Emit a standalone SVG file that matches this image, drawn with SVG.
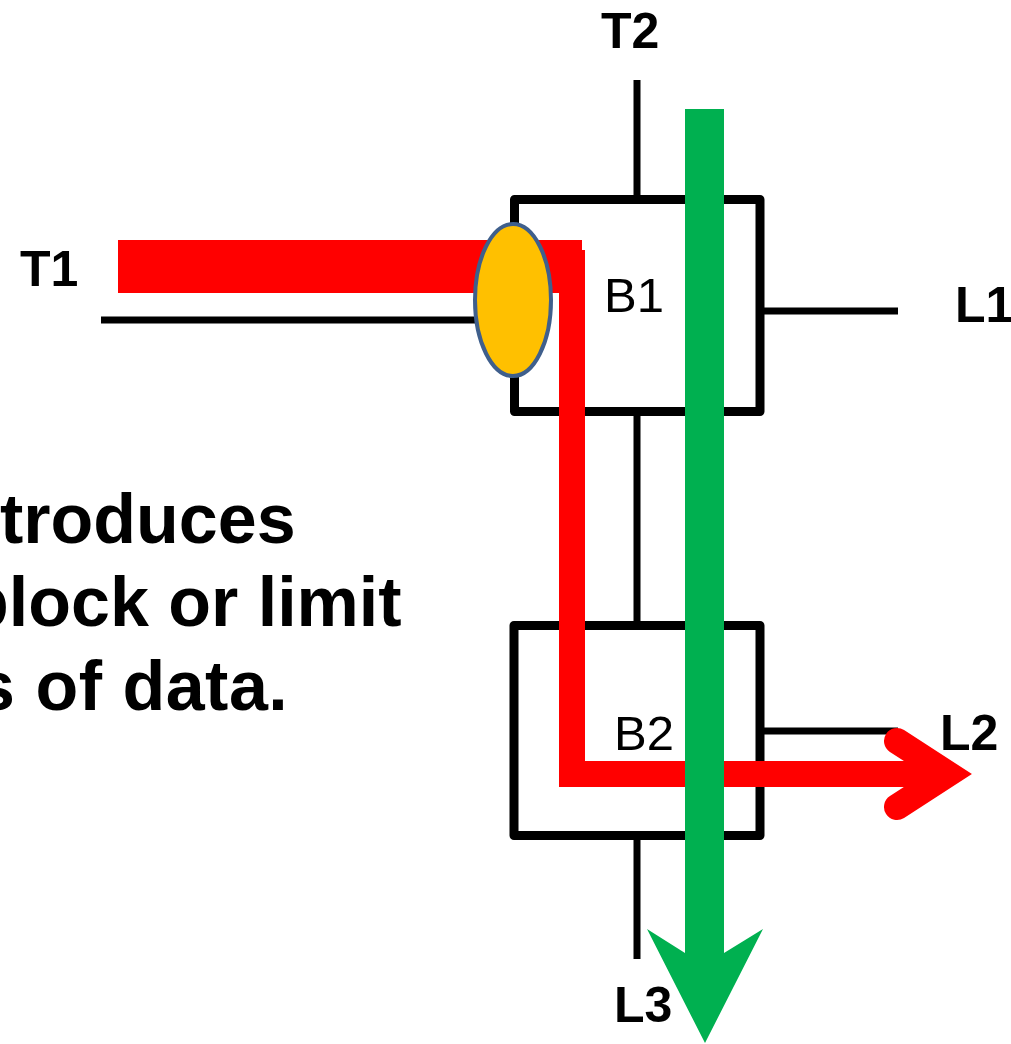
<svg xmlns="http://www.w3.org/2000/svg" width="1011" height="1044" viewBox="0 0 1011 1044">
<style>
.box{fill:#FFFFFF;stroke:#000000;stroke-width:9;stroke-linejoin:round}
.wire{stroke:#000000;stroke-width:7;fill:none}
.lbl{font-family:"Liberation Sans",Arial,sans-serif;font-weight:bold;font-size:50px;fill:#000000}
.blk{font-family:"Liberation Sans",Arial,sans-serif;font-size:49px;fill:#000000}
.body{font-family:"Liberation Sans",Arial,sans-serif;font-weight:bold;font-size:70px;fill:#000000}
.red{stroke:#FF0000;fill:none;stroke-width:26}
</style>
<rect width="1011" height="1044" fill="#FFFFFF"/>
<g id="body-text">
<text class="body" x="0" y="543">troduces</text>
<text class="body" x="-34" y="626">block or limit</text>
<text class="body" x="-24" y="710" letter-spacing="0.5">s of data.</text>
</g>
<g id="wires">
<line class="wire" x1="637" y1="80" x2="637" y2="200"/>
<line class="wire" x1="101" y1="320" x2="514" y2="320"/>
<line class="wire" x1="760" y1="311" x2="898" y2="311"/>
<line class="wire" x1="637" y1="411" x2="637" y2="626"/>
<line class="wire" x1="760" y1="731" x2="898" y2="731"/>
<line class="wire" x1="637" y1="835" x2="637" y2="959"/>
</g>
<g id="B1">
<rect class="box" x="514.5" y="199.5" width="245.5" height="212"/>
<text class="blk" x="604" y="312">B1</text>
</g>
<g id="B2">
<rect class="box" x="514" y="625.5" width="246" height="210"/>
<text class="blk" x="614" y="750">B2</text>
</g>
<g id="connectors">
<g id="red-path">
<rect x="118" y="240" width="464" height="53" fill="#FF0000"/>
<path class="red" d="M572 250 V774 H950" stroke-linejoin="miter"/>
<polyline class="red" points="897,741 948,774 897,807" stroke-linecap="round" stroke-linejoin="miter"/>
</g>
<g id="green-path">
<rect x="685" y="109" width="39" height="860" fill="#00B050"/>
<polygon points="685,953 647,929 705,1043 763,929 724,953" fill="#00B050"/>
</g>
</g>
<g id="junction">
<ellipse cx="513" cy="300" rx="38" ry="76" fill="#FFC000" stroke="#3F5F8C" stroke-width="4"/>
</g>
<g id="labels">
<text class="lbl" x="20" y="286">T1</text>
<text class="lbl" x="601" y="48">T2</text>
<text class="lbl" x="955" y="322">L1</text>
<text class="lbl" x="940" y="750">L2</text>
<text class="lbl" x="614" y="1022">L3</text>
</g>
</svg>
